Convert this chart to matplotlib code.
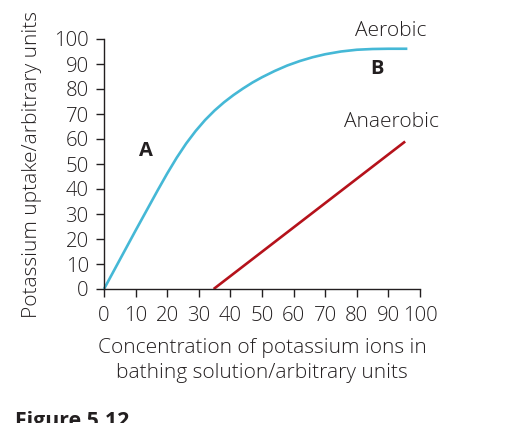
import matplotlib
matplotlib.use('Agg')
import matplotlib.pyplot as plt

plt.rcParams['font.family'] = ['Open Sans', 'DejaVu Sans']

# aerobic uptake curve
aer_x = [0, 5, 10, 14, 17, 20, 23, 26, 29, 32, 35, 38, 41, 44, 47, 50, 54, 58, 62, 66, 70,
         75, 80, 85, 90, 96]
aer_y = [0, 11.7, 23.4, 32.6, 39.5, 46.2, 52.5, 58.2, 63.2, 67.6, 71.4, 74.7, 77.6, 80.2,
         82.6, 84.7, 87.2, 89.4, 91.2, 92.7, 93.9, 95, 95.7, 96, 96.1, 96.1]
# anaerobic uptake line
ana_x = [34.7, 95.3]
ana_y = [0, 59]

ticks = [0, 10, 20, 30, 40, 50, 60, 70, 80, 90, 100]
txt = '#231f20'
fs = 15

fig = plt.figure(figsize=(5.3, 4.23), dpi=100)
ax = fig.add_axes([104/530, 1-289/423, 316/530, 250/423])

ax.plot(aer_x, aer_y, color='#45b8d6', lw=1.9, clip_on=False, solid_capstyle='butt')
ax.plot(ana_x, ana_y, color='#b5121b', lw=1.9, clip_on=False, solid_capstyle='butt')

ax.set_xlim(0, 100)
ax.set_ylim(0, 100)
ax.set_xticks(ticks)
ax.set_yticks(ticks)
ax.tick_params(direction='out', length=6, width=1, colors=txt, labelsize=14.7)
ax.tick_params(axis='y', pad=5)
ax.tick_params(axis='x', pad=6)
for lab in ax.get_xticklabels() + ax.get_yticklabels():
    lab.set_fontweight('light')
for s in ['top', 'right']:
    ax.spines[s].set_visible(False)
for s in ['left', 'bottom']:
    ax.spines[s].set_color(txt)
    ax.spines[s].set_linewidth(1)

ax.set_ylabel('Potassium uptake/arbitrary units', fontsize=fs, color=txt, labelpad=9,
              fontweight='light')
ax.set_xlabel('Concentration of potassium ions in\nbathing solution/arbitrary units',
              fontsize=fs, color=txt, labelpad=9, linespacing=1.35, fontweight='light')

ax.text(90.8, 103.2, 'Aerobic', fontsize=fs, color=txt, ha='center', va='center',
        clip_on=False, fontweight='light')
ax.text(91, 66.8, 'Anaerobic', fontsize=fs, color=txt, ha='center', va='center',
        fontweight='light')
ax.text(86.5, 88, 'B', fontsize=14.5, fontweight='bold', color=txt, ha='center', va='center')
ax.text(13.3, 55.2, 'A', fontsize=14.5, fontweight='bold', color=txt, ha='center', va='center')

fig.text(15/530, -4/423, 'Figure 5.12', fontsize=15.3, fontweight='bold', color=txt,
         ha='left', va='baseline')

fig.savefig('out.png', dpi=100)
